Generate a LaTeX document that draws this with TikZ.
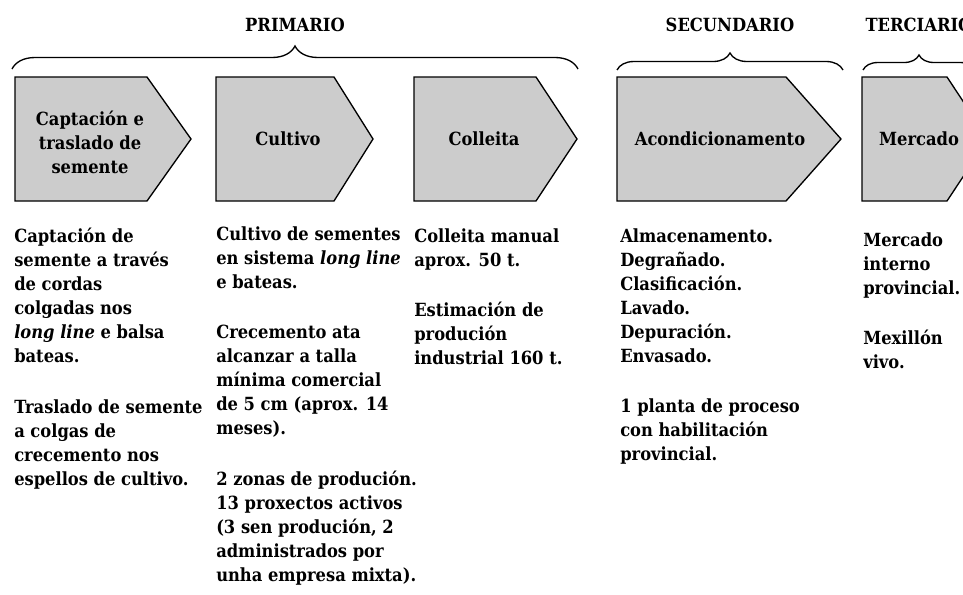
\documentclass[tikz,border=0pt]{standalone}
\usepackage{fontspec}
\setmainfont{DejaVu Serif Condensed}
\usetikzlibrary{decorations.pathreplacing}
\definecolor{stagefill}{RGB}{204,204,204}
\newcommand{\chainfont}{\fontsize{13.6}{18}\selectfont\bfseries}
\tikzset{
  stagebox/.style={draw=black, fill=stagefill, line width=1pt, line join=miter},
  stagelabel/.style={align=center, inner sep=0pt, font=\chainfont},
  bodytext/.style={anchor=north west, align=left, inner sep=0pt, font=\chainfont},
  sectorbrace/.style={decorate, decoration={brace, amplitude=#1}, line width=1pt},
  sectorlabel/.style={inner sep=0pt, font=\chainfont}
}
\begin{document}
\begin{tikzpicture}[x=0.75pt, y=-0.75pt]

  \useasboundingbox (0,0) rectangle (963,594);
  \clip (0,0) rectangle (963,594);

  % Sectors
  \node[sectorlabel] (primario) at (295,25) {PRIMARIO};
  \node[sectorlabel] (secundario) at (730,25) {SECUNDARIO};
  \node[sectorlabel] (terciario) at (919,25) {TERCIARIO};

  \draw[sectorbrace=17.25pt] (12,69) -- (578,69);
  \draw[sectorbrace=12.75pt] (617,70) -- (843,70);
  \draw[sectorbrace=11.25pt] (863,70) -- (975,70);

  % Stages
  \draw[stagebox] (15,77) -- (147,77) -- (191,139) -- (147,201) -- (15,201) -- cycle;
  \draw[stagebox] (216,77) -- (334,77) -- (373,139) -- (334,201) -- (216,201) -- cycle;
  \draw[stagebox] (414,77) -- (536,77) -- (577,139) -- (536,201) -- (414,201) -- cycle;
  \draw[stagebox] (617,77) -- (786,77) -- (841,139) -- (786,201) -- (617,201) -- cycle;
  \draw[stagebox] (862,77) -- (947,77) -- (988,139) -- (947,201) -- (862,201) -- cycle;

  \node[stagelabel] (captacion) at (90,142) {Captación e\\traslado de\\semente};
  \node[stagelabel] (cultivo) at (288,139) {Cultivo};
  \node[stagelabel] (colleita) at (484,139) {Colleita};
  \node[stagelabel] (acondicionamento) at (720,139) {Acondicionamento};
  \node[stagelabel] (mercado) at (919,139) {Mercado};

  % Descriptions
  \node[bodytext] (captacion text) at (14,228) {Captación de\\semente a través\\de cordas\\colgadas nos\\\textit{long line} e balsa\\bateas.\\[20pt]Traslado de semente\\a colgas de\\crecemento nos\\espellos de cultivo.};
  \node[bodytext] (cultivo text) at (216,226) {Cultivo de sementes\\en sistema \textit{long line}\\e bateas.\\[20pt]Crecemento ata\\alcanzar a talla\\mínima comercial\\de 5 cm (aprox. 14\\meses).\\[20pt]2 zonas de produción.\\13 proxectos activos\\(3 sen produción, 2\\administrados por\\unha empresa mixta).};
  \node[bodytext] (colleita text) at (414,228) {Colleita manual\\aprox. 50 t.\\[20pt]Estimación de\\produción\\industrial 160 t.};
  \node[bodytext] (acondicionamento text) at (620,228) {Almacenamento.\\Degrañado.\\Clasificación.\\Lavado.\\Depuración.\\Envasado.\\[20pt]1 planta de proceso\\con habilitación\\provincial.};
  \node[bodytext] (mercado text) at (863,232) {Mercado\\interno\\provincial.\\[20pt]Mexillón\\vivo.};

\end{tikzpicture}
\end{document}
